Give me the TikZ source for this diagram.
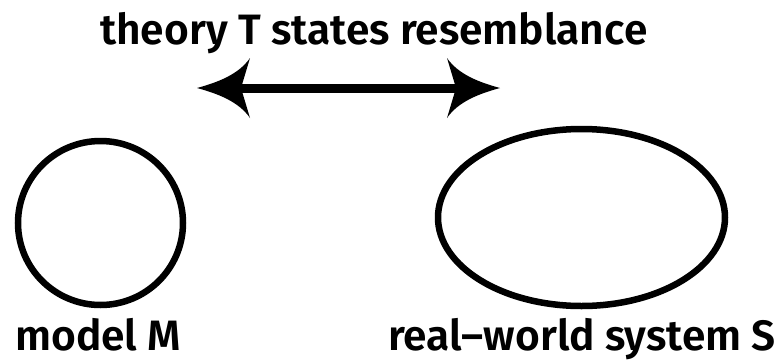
\documentclass[tikz,border=0pt]{standalone}
\usepackage{fontspec}
\setmainfont{Fira Sans}[UprightFont=* SemiBold]
\usetikzlibrary{shapes.geometric,arrows.meta}
\pgfdeclarearrow{
  name=Swept,
  setup code={
    \pgfarrowssettipend{0pt}
    \pgfarrowssetlineend{-40pt}
    \pgfarrowssetbackend{-53pt}
    \pgfarrowssetvisualbackend{-43pt}
    \pgfarrowshullpoint{0pt}{0pt}
    \pgfarrowshullpoint{-53pt}{30pt}
    \pgfarrowshullpoint{-53pt}{-30pt}
  },
  drawing code={
    \pgfpathmoveto{\pgfpoint{0pt}{0pt}}
    \pgfpathcurveto{\pgfpoint{-22pt}{6pt}}{\pgfpoint{-42pt}{14pt}}{\pgfpoint{-53pt}{30pt}}
    \pgfpathlineto{\pgfpoint{-44pt}{0pt}}
    \pgfpathlineto{\pgfpoint{-53pt}{-30pt}}
    \pgfpathcurveto{\pgfpoint{-42pt}{-14pt}}{\pgfpoint{-22pt}{-6pt}}{\pgfpoint{0pt}{0pt}}
    \pgfpathclose
    \pgfusepathqfill
  }
}
\tikzset{
  blob/.style={draw=black, line width=6.5pt, ellipse, inner sep=0pt},
  label/.style={font=\fontsize{42.5}{46}\selectfont, inner sep=0pt, anchor=base west},
  relation/.style={line width=9pt, {Swept}-{Swept}}
}
\begin{document}
\begin{tikzpicture}[x=1pt,y=-1pt]
  \path[use as bounding box] (0,0) rectangle (780,362);
  \node[label] (title) at (100,44) {theory T states resemblance};
  \coordinate (aL) at (197,88);
  \coordinate (aR) at (500,88);
  \draw[relation] (aL) -- (aR);
  \node[blob, minimum width=165pt, minimum height=164pt] (M) at (100.5,223) {};
  \node[blob, minimum width=287pt, minimum height=177pt] (S) at (581.5,217.5) {};
  \node[label] (mlab) at (15,350) {model M};
  \node[label] (slab) at (388,350) {real–world system S};
\end{tikzpicture}
\end{document}
